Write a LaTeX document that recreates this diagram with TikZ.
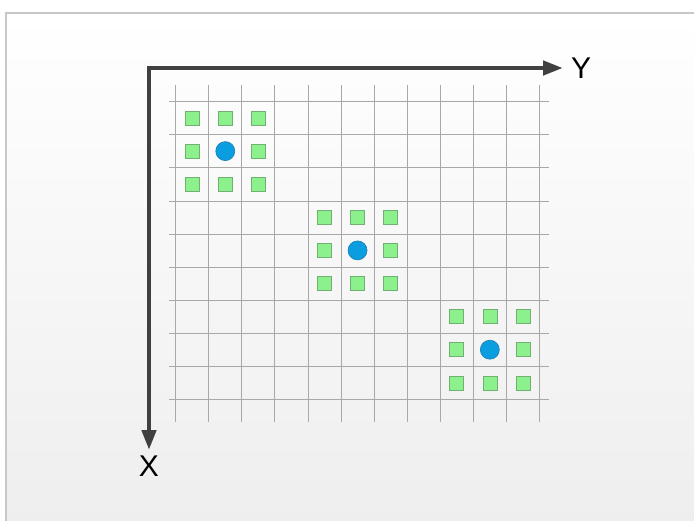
\documentclass[tikz,border=0pt]{standalone}
\usepackage{fontspec}
\setmainfont{Liberation Sans}
\usepackage{tikz}
\usetikzlibrary{arrows.meta, positioning}
\definecolor{gridgray}{HTML}{A8A8A8}
\definecolor{axisdark}{HTML}{404040}
\definecolor{markgreen}{HTML}{8CF08C}
\definecolor{markedge}{HTML}{70B070}
\definecolor{dotblue}{HTML}{0A9EE0}
\definecolor{dotedge}{HTML}{1A7CB0}
\definecolor{framegray}{HTML}{C8C8C8}
\definecolor{pagegray}{HTML}{EEEEEE}

\tikzset{
  cellmark/.style={draw=markedge, fill=markgreen, minimum size=14pt, inner sep=0pt, line width=0.6pt},
  centerdot/.style={circle, draw=dotedge, fill=dotblue, minimum size=19pt, inner sep=0pt, line width=0.6pt},
  axislabel/.style={font=\fontsize{30}{32}\selectfont, text=black, inner sep=0pt}
}

\begin{document}
\begin{tikzpicture}[x=1pt, y=-1pt]
  \useasboundingbox (0,0) rectangle (694,520);
  \shade[top color=white, bottom color=pagegray] (6,13) rectangle (700,526);
  \draw[framegray, line width=1.2pt] (6,526) -- (6,13) -- (700,13);
  % grid
  \foreach \i in {0,...,11}
    \draw[gridgray, line width=0.9pt] (175.7+\i*33.07,85) -- (175.7+\i*33.07,422);
  \foreach \j in {0,...,9}
    \draw[gridgray, line width=0.9pt] (169,101.7+\j*33.1) -- (549,101.7+\j*33.1);
  % clusters: 8 neighbours round one centre
  \foreach \c/\r [count=\k] in {0/0, 4/3, 8/6} {
    \foreach \dx in {0,1,2} {
      \foreach \dy in {0,1,2} {
        \ifnum\dx\dy=11 \else
          \node[cellmark] (m\k-\dx\dy) at (192.2+\c*33.07+\dx*33.07, 118+\r*33.1+\dy*33.1) {};
        \fi
      }
    }
    \node[centerdot] (c\k) at (192.2+\c*33.07+33.07, 118+\r*33.1+33.1) {};
  }
  % axes
  \coordinate (origin) at (149,68);
  \coordinate (ytip) at (563,68);
  \coordinate (xtip) at (149,450);
  \draw[axisdark, line width=4.5pt, {Triangle[length=20pt, width=14pt]}-{Triangle[length=20pt, width=14pt]}]
    (xtip) -- (origin) -- (ytip);
  \node[axislabel, anchor=west, right=8pt of ytip] (ylab) {Y};
  \node[axislabel, anchor=north, below=6pt of xtip] (xlab) {X};
\end{tikzpicture}
\end{document}
